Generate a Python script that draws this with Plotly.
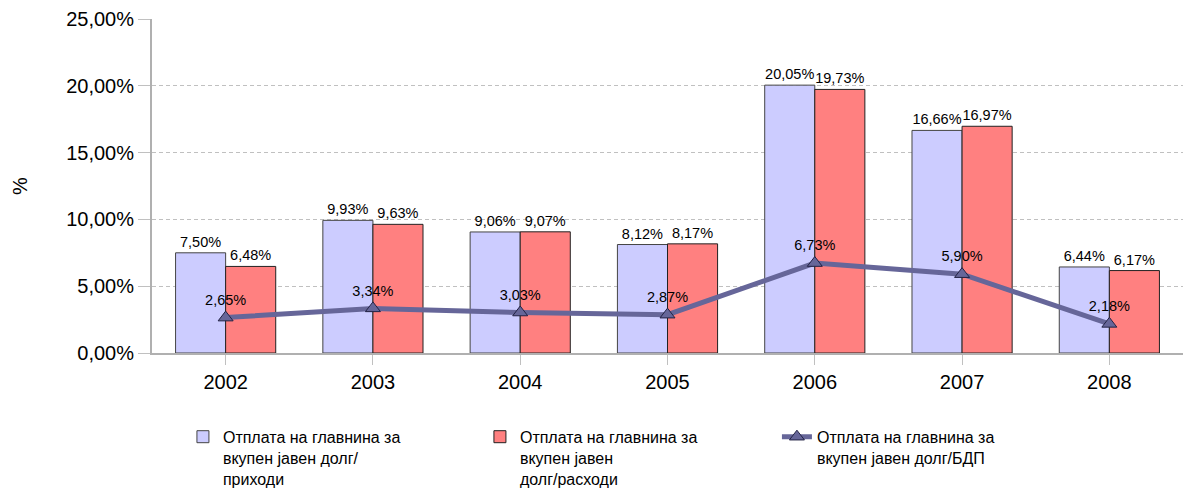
import plotly.graph_objects as go

years = ["2002", "2003", "2004", "2005", "2006", "2007", "2008"]
revenue = [7.50, 9.93, 9.06, 8.12, 20.05, 16.66, 6.44]
expenditure = [6.48, 9.63, 9.07, 8.17, 19.73, 16.97, 6.17]
gdp = [2.65, 3.34, 3.03, 2.87, 6.73, 5.90, 2.18]

names = [
    "Отплата на главнина за<br>вкупен јавен долг/<br>приходи",
    "Отплата на главнина за<br>вкупен јавен<br>долг/расходи",
    "Отплата на главнина за<br>вкупен јавен долг/БДП",
]

label_font = dict(size=14.5, color="#000000")

fig = go.Figure()
fig.add_trace(go.Bar(
    x=years, y=revenue, name=names[0],
    marker=dict(color="#CCCCFF", line=dict(color="#444444", width=1)),
    texttemplate="%{y:.2f}%", textposition="outside", textfont=label_font,
))
fig.add_trace(go.Bar(
    x=years, y=expenditure, name=names[1],
    marker=dict(color="#FF8080", line=dict(color="#222222", width=1)),
    texttemplate="%{y:.2f}%", textposition="outside", textfont=label_font,
))
fig.add_trace(go.Scatter(
    x=years, y=gdp, name=names[2], mode="lines+markers+text",
    line=dict(color="#666699", width=5),
    marker=dict(symbol="triangle-up", size=13, color="#666699",
                line=dict(color="#222244", width=1)),
    texttemplate="%{y:.2f}%", textposition="top center", textfont=label_font,
))

# page body has an 8px margin, so the figure is a little smaller than the window
fig.update_layout(
    width=1186, height=491,
    margin=dict(l=144, r=11, t=11, b=146, autoexpand=False),
    paper_bgcolor="white", plot_bgcolor="white",
    font=dict(family="Liberation Sans, Arial, sans-serif", color="#000000"),
    separators=",.",
    barmode="group", bargap=0.32, bargroupgap=0,
    legend=dict(
        orientation="h", x=0.03, y=-0.2, xanchor="left", yanchor="top",
        font=dict(size=16), valign="top",
        entrywidth=252, traceorder="normal", itemwidth=30,
    ),
    showlegend=True,
)
fig.update_yaxes(
    range=[0, 25], dtick=5, tickformat=".2f", ticksuffix="%",
    tickfont=dict(size=20), showgrid=True, gridcolor="#c0c0c0", griddash="4px,3px",
    showline=True, linecolor="#b0b0b0", linewidth=2,
    ticks="outside", ticklen=12, tickcolor="#c0c0c0",
    zeroline=False,
    title=dict(text="%", font=dict(size=20), standoff=33),
)
fig.update_xaxes(
    tickfont=dict(size=20), showline=True, linecolor="#b0b0b0", linewidth=2,
    ticks="outside", ticklen=10, tickcolor="#c0c0c0",
)

fig.write_html("out.html")
